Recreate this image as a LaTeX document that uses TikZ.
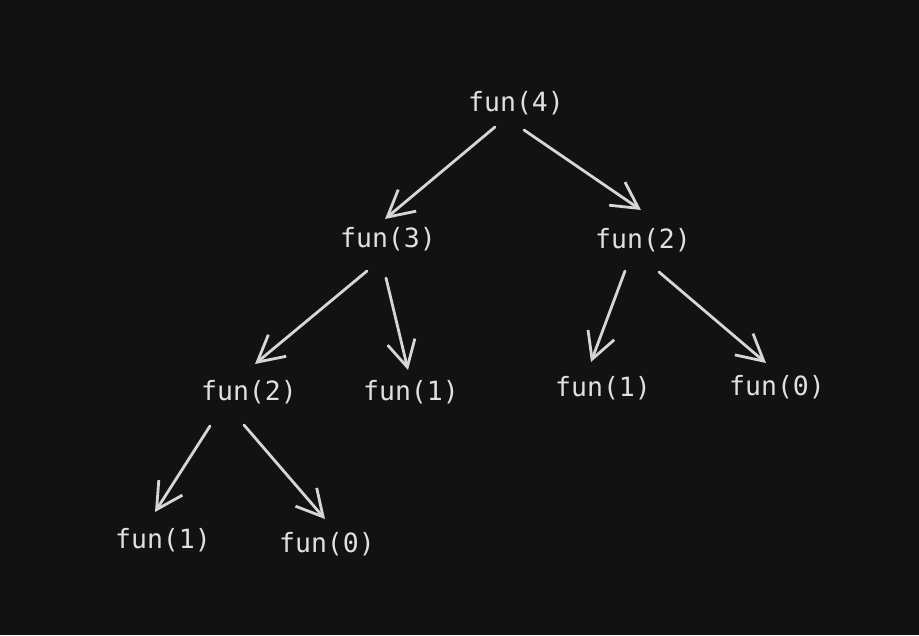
\documentclass[tikz,border=0pt]{standalone}
\usepackage{fontspec}
\setmonofont{DejaVu Sans Mono}
\usetikzlibrary{arrows.meta,calc}
\definecolor{bg}{HTML}{121212}
\definecolor{ink}{HTML}{D6D6D6}
\definecolor{txt}{HTML}{E0E0E0}
\tikzset{
  lbl/.style={text=txt,font=\ttfamily\fontsize{26.5}{31}\selectfont,inner sep=0pt},
  edge/.style={draw=ink,line width=2.8pt,line cap=round,line join=round,
    -{Straight Barb[length=26pt,width=28pt,line width=2.8pt]}}
}
\begin{document}
\begin{tikzpicture}[x=1pt,y=-1pt]
\fill[bg] (0,0) rectangle (919,635);
\useasboundingbox (0,0) rectangle (919,635);
\node[lbl] (f4) at (516,103) {fun(4)};
\node[lbl] (f3) at (388,239) {fun(3)};
\node[lbl] (f2r) at (643,240) {fun(2)};
\node[lbl] (f2l) at (249,392) {fun(2)};
\node[lbl] (f1m) at (411,392) {fun(1)};
\node[lbl] (f1r) at (603,388) {fun(1)};
\node[lbl] (f0r) at (777,387) {fun(0)};
\node[lbl] (f1b) at (163,540) {fun(1)};
\node[lbl] (f0b) at (327,544) {fun(0)};
\draw[edge] ($(f4)+(-21,24)$) -- ($(f3)+(-3,-20)$);
\draw[edge] ($(f4)+(8,27)$) -- ($(f2r)+(-2,-30)$);
\draw[edge] ($(f3)+(-21,32)$) -- ($(f2l)+(6,-28)$);
\draw[edge] ($(f3)+(-2,39)$) -- ($(f1m)+(-3,-22)$);
\draw[edge] ($(f2r)+(-18,31)$) -- ($(f1r)+(-12,-26)$);
\draw[edge] ($(f2r)+(16,32)$) -- ($(f0r)+(-11,-24)$);
\draw[edge] ($(f2l)+(-39,34)$) -- ($(f1b)+(-8,-28)$);
\draw[edge] ($(f2l)+(-5,33)$) -- ($(f0b)+(-2,-25)$);
\end{tikzpicture}
\end{document}
